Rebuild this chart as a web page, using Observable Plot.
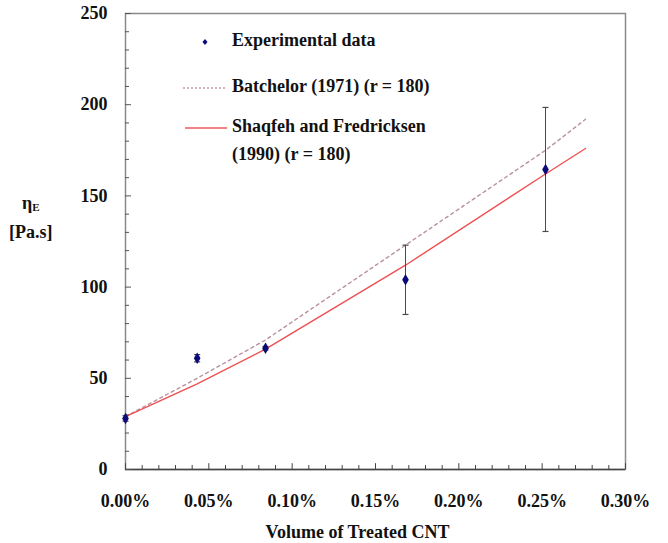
<!DOCTYPE html>
<html>
<head>
<meta charset="utf-8">
<script src="https://cdn.jsdelivr.net/npm/d3@7"></script>
<script src="https://cdn.jsdelivr.net/npm/@observablehq/plot@0.6"></script>
<style>
  body { margin: 0; background: #fff; }
  #wrap { position: relative; width: 668px; height: 543px; font-family: "Liberation Serif", "Times New Roman", Times, "DejaVu Serif", serif; font-weight: bold; color: #111; }
  #ylab { position: absolute; left: 9px; top: 191px; font-size: 18px; text-align: center; line-height: 25px; }
  #ylab sub { font-size: 11px; vertical-align: -2px; }
  #legend { position: absolute; left: 180px; top: 30px; font-size: 18px; }
  .row { position: absolute; white-space: nowrap; }
</style>
</head>
<body>
<div id="wrap">
  <div id="chart"></div>
  <div id="ylab">η<sub>E</sub><br>[Pa.s]</div>
  <div id="legend">
    <div class="row" style="left:0;top:0;">
      <svg width="50" height="24" style="vertical-align:middle"><path d="M25,9 L27.5,12 L25,15 L22.5,12 Z" fill="#0a0a78"/></svg><span style="margin-left:2px">Experimental data</span>
    </div>
    <div class="row" style="left:0;top:46px;">
      <svg width="50" height="24" style="vertical-align:middle"><line x1="3" y1="12" x2="47" y2="12" stroke="#c797a8" stroke-width="1.3" stroke-dasharray="2,2"/></svg><span style="margin-left:2px">Batchelor (1971) (r = 180)</span>
    </div>
    <div class="row" style="left:0;top:86px;">
      <svg width="50" height="24" style="vertical-align:middle"><line x1="5" y1="12" x2="47" y2="12" stroke="#ee5a5c" stroke-width="1.3"/></svg><span style="margin-left:2px">Shaqfeh and Fredricksen</span>
    </div>
    <div class="row" style="left:52px;top:114px;">(1990) (r = 180)</div>
  </div>
</div>
<script>
// Experimental data (volume fraction in %, extensional viscosity Pa.s)
const expX = [0.000, 0.043, 0.084, 0.168, 0.252];
const expY = [28, 61, 66.5, 104, 164.5];
const expErr = [1.5, 2, 1, 19, 34];

// Model curves
const modelX = [0.000, 0.043, 0.084, 0.168, 0.252, 0.276];
const batchelorY = [29, 50, 71, 123, 175, 192];
const shaqfehY = [29, 47, 66, 112, 162, 176];

// Tick labels
const xTicks = [0, 0.05, 0.10, 0.15, 0.20, 0.25, 0.30];
const yTicks = [0, 50, 100, 150, 200, 250];

const exp = expX.map((x, i) => ({x, y: expY[i], lo: expY[i] - expErr[i], hi: expY[i] + expErr[i]}));
const batch = modelX.map((x, i) => ({x, y: batchelorY[i]}));
const shaq = modelX.map((x, i) => ({x, y: shaqfehY[i]}));
const xMinor = d3.range(0, 31).map(i => i * 0.01);
const yMinor = d3.range(0, 26).map(i => i * 10);
const cap = 0.0018;

const chart = Plot.plot({
  width: 668,
  height: 543,
  marginLeft: 125,
  marginRight: 43,
  marginTop: 13,
  marginBottom: 74,
  style: {fontFamily: "'Liberation Serif', 'Times New Roman', Times, 'DejaVu Serif', serif", fontWeight: "bold", fontSize: "18px", color: "#111", background: "#fff"},
  x: {domain: [0, 0.30]},
  y: {domain: [0, 250]},
  marks: [
    Plot.frame({stroke: "#8a8a8a", strokeWidth: 1.5}),
    Plot.ruleY([0], {stroke: "#444", strokeWidth: 1.5}),
    Plot.ruleX(xMinor, {y1: 0, y2: d => (Math.round(d * 100) % 5 === 0 ? 3.2 : 2.2), stroke: "#444"}),
    Plot.ruleY(yMinor, {x1: 0, x2: d => (d % 50 === 0 ? 0.0036 : 0.0024), stroke: "#555"}),
    Plot.axisX(xTicks, {tickSize: 0, tickPadding: 25, tickFormat: d => d.toFixed(2) + "%", label: null}),
    Plot.axisY(yTicks, {tickSize: 0, tickPadding: 18, label: null}),
    Plot.text(["Volume of Treated CNT"], {frameAnchor: "bottom", dy: 68, dx: -18, fontSize: 18}),
    Plot.line(batch, {x: "x", y: "y", stroke: "#b9909f", strokeWidth: 1.4, strokeDasharray: "3,3.5"}),
    Plot.line(shaq, {x: "x", y: "y", stroke: "#ee5052", strokeWidth: 1.4}),
    Plot.ruleX(exp, {x: "x", y1: "lo", y2: "hi", stroke: "#4a4a4a", strokeWidth: 1}),
    Plot.link(exp, {x1: d => d.x - cap, x2: d => d.x + cap, y1: "hi", y2: "hi", stroke: "#4a4a4a", strokeWidth: 1.2}),
    Plot.link(exp, {x1: d => d.x - cap, x2: d => d.x + cap, y1: "lo", y2: "lo", stroke: "#4a4a4a", strokeWidth: 1.2}),
    Plot.dot(exp, {x: "x", y: "y", symbol: "diamond", r: 2.6, fill: "#0a0a78", stroke: "#0a0a78"})
  ]
});
document.getElementById("chart").appendChild(chart);
</script>
</body>
</html>
